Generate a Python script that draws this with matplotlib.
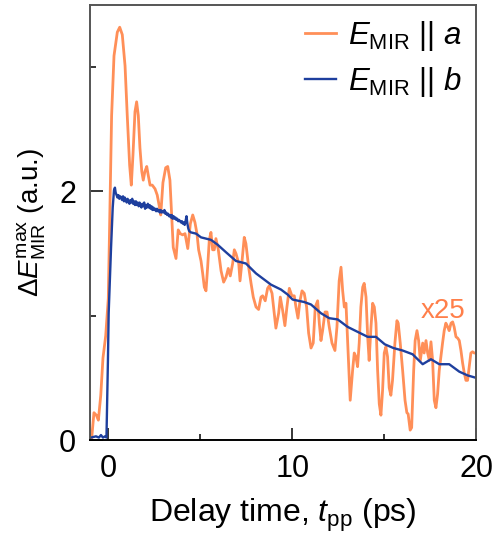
import numpy as np
from matplotlib import pyplot as plt

plt.rcParams['font.family'] = ['Liberation Sans', 'DejaVu Sans']
plt.rcParams['mathtext.fontset'] = 'custom'
plt.rcParams['mathtext.rm'] = 'Liberation Sans'
plt.rcParams['mathtext.it'] = 'Liberation Sans:italic'

# E_MIR || a (scaled x25)
t_a = [-0.90, -0.78, -0.65, -0.54, -0.41, -0.29, -0.14, 0.00, 0.08, 0.18,
       0.31, 0.49, 0.62, 0.76, 0.91, 1.03, 1.16, 1.25, 1.34, 1.45,
       1.54, 1.63, 1.72, 1.82, 1.90, 1.99, 2.09, 2.17, 2.27, 2.39,
       2.54, 2.66, 2.76, 2.85, 2.97, 3.12, 3.23, 3.35, 3.45, 3.53,
       3.68, 3.80, 3.91, 4.04, 4.17, 4.32, 4.46, 4.59, 4.71, 4.82,
       4.91, 5.04, 5.13, 5.22, 5.31, 5.40, 5.49, 5.58, 5.67, 5.76,
       5.85, 5.98, 6.13, 6.27, 6.40, 6.52, 6.63, 6.76, 6.85, 6.94,
       7.09, 7.16, 7.27, 7.39, 7.48, 7.63, 7.76, 7.88, 8.03, 8.17,
       8.30, 8.39, 8.53, 8.66, 8.75, 8.90, 9.02, 9.11, 9.26, 9.35,
       9.48, 9.60, 9.71, 9.84, 9.98, 10.11, 10.20, 10.31, 10.42, 10.53,
       10.65, 10.78, 10.89, 11.02, 11.14, 11.25, 11.38, 11.47, 11.56, 11.65,
       11.78, 11.89, 12.01, 12.16, 12.32, 12.43, 12.55, 12.65, 12.74, 12.83,
       12.92, 13.01, 13.15, 13.28, 13.37, 13.46, 13.55, 13.64, 13.73, 13.83,
       13.91, 14.01, 14.10, 14.18, 14.28, 14.37, 14.46, 14.55, 14.64, 14.73,
       14.82, 14.91, 15.00, 15.09, 15.18, 15.27, 15.36, 15.45, 15.58, 15.69,
       15.76, 15.87, 16.00, 16.13, 16.23, 16.30, 16.41, 16.49, 16.60, 16.68,
       16.78, 16.87, 16.96, 17.09, 17.17, 17.27, 17.36, 17.45, 17.54, 17.63,
       17.72, 17.81, 17.90, 17.99, 18.08, 18.17, 18.26, 18.35, 18.45, 18.53,
       18.63, 18.72, 18.80, 18.90, 18.99, 19.08, 19.17, 19.26, 19.35, 19.44,
       19.53, 19.62, 19.71, 19.80, 19.89, 20.00]
e_a = [0.02, 0.22, 0.20, 0.16, 0.36, 0.66, 0.84, 1.14, 1.81, 2.61,
       3.09, 3.28, 3.32, 3.26, 3.01, 2.61, 2.21, 2.05, 2.29, 2.64,
       2.72, 2.61, 2.35, 2.16, 2.09, 2.16, 2.20, 2.13, 2.05, 2.05,
       2.02, 1.97, 1.89, 1.81, 2.07, 2.19, 2.20, 2.09, 1.79, 1.55,
       1.46, 1.69, 1.66, 1.65, 1.66, 1.54, 1.74, 1.81, 1.75, 1.66,
       1.53, 1.44, 1.34, 1.23, 1.20, 1.39, 1.61, 1.67, 1.53, 1.53,
       1.62, 1.53, 1.36, 1.27, 1.31, 1.38, 1.32, 1.42, 1.53, 1.50,
       1.42, 1.28, 1.44, 1.63, 1.58, 1.39, 1.26, 1.15, 1.07, 1.05,
       1.15, 1.16, 1.12, 1.22, 1.24, 1.18, 1.02, 0.90, 1.02, 1.15,
       1.04, 0.92, 1.07, 1.22, 1.16, 1.16, 1.07, 0.98, 1.12, 1.20,
       1.18, 1.07, 0.86, 0.74, 0.78, 1.07, 1.12, 0.94, 0.80, 0.88,
       1.03, 1.03, 0.91, 0.78, 0.72, 0.91, 1.28, 1.39, 1.20, 1.07,
       1.10, 0.80, 0.32, 0.56, 0.70, 0.67, 0.59, 0.78, 1.07, 1.23,
       1.26, 1.15, 0.83, 0.64, 0.91, 1.10, 1.07, 0.94, 0.56, 0.29,
       0.20, 0.40, 0.70, 0.75, 0.67, 0.42, 0.36, 0.48, 0.78, 0.96,
       0.94, 0.78, 0.56, 0.32, 0.22, 0.21, 0.08, 0.10, 0.56, 0.80,
       0.88, 0.80, 0.64, 0.78, 0.70, 0.80, 0.70, 0.64, 0.79, 0.64,
       0.32, 0.26, 0.37, 0.56, 0.67, 0.78, 0.88, 0.94, 0.91, 0.88,
       0.94, 0.95, 0.91, 0.83, 0.82, 0.80, 0.72, 0.62, 0.54, 0.48,
       0.48, 0.59, 0.70, 0.71, 0.70, 0.70]

# E_MIR || b
t_b = [-0.94, -0.67, -0.51, -0.40, -0.29, -0.18, -0.10, -0.02, 0.02, 0.15,
       0.24, 0.31, 0.36, 0.40, 0.45, 0.50, 0.55, 0.60, 0.65, 0.70,
       0.75, 0.80, 0.85, 0.90, 0.95, 1.00, 1.05, 1.10, 1.15, 1.20,
       1.25, 1.30, 1.35, 1.40, 1.45, 1.50, 1.55, 1.60, 1.65, 1.70,
       1.75, 1.80, 1.85, 1.90, 1.95, 2.00, 2.05, 2.10, 2.15, 2.20,
       2.25, 2.30, 2.35, 2.40, 2.45, 2.50, 2.55, 2.60, 2.65, 2.70,
       2.75, 2.80, 2.85, 2.90, 2.95, 3.00, 3.05, 3.10, 3.15, 3.20,
       3.25, 3.30, 3.35, 3.40, 3.45, 3.50, 3.55, 3.60, 3.65, 3.70,
       3.75, 3.80, 3.85, 3.90, 3.95, 4.00, 4.05, 4.10, 4.15, 4.20,
       4.25, 4.30, 4.35, 4.40, 4.49, 4.77, 5.04, 5.58, 5.95, 6.40,
       6.94, 7.48, 8.03, 8.57, 8.84, 9.39, 9.75, 10.02, 10.65, 11.02,
       11.56, 12.01, 12.47, 13.01, 13.55, 14.10, 14.55, 15.03, 15.50, 16.00,
       16.54, 17.09, 17.54, 17.99, 18.53, 19.08, 19.53, 20.00]
e_b = [0.02, 0.03, 0.02, 0.04, 0.02, 0.03, 0.02, 0.64, 1.02, 1.55,
       1.87, 2.01, 2.03, 1.99, 1.97, 1.95, 1.97, 1.94, 1.96, 1.95,
       1.93, 1.96, 1.92, 1.95, 1.93, 1.91, 1.94, 1.92, 1.90, 1.93,
       1.91, 1.94, 1.90, 1.92, 1.89, 1.92, 1.89, 1.91, 1.88, 1.91,
       1.89, 1.87, 1.90, 1.88, 1.91, 1.86, 1.89, 1.87, 1.90, 1.87,
       1.89, 1.86, 1.88, 1.85, 1.87, 1.85, 1.86, 1.84, 1.86, 1.84,
       1.85, 1.83, 1.85, 1.83, 1.84, 1.83, 1.85, 1.82, 1.83, 1.81,
       1.82, 1.80, 1.81, 1.79, 1.81, 1.78, 1.80, 1.78, 1.79, 1.77,
       1.78, 1.76, 1.77, 1.76, 1.75, 1.76, 1.74, 1.75, 1.73, 1.76,
       1.80, 1.74, 1.70, 1.68, 1.67, 1.66, 1.63, 1.61, 1.57, 1.51,
       1.44, 1.42, 1.34, 1.28, 1.25, 1.21, 1.17, 1.13, 1.11, 1.09,
       1.02, 0.98, 0.97, 0.91, 0.87, 0.83, 0.83, 0.77, 0.74, 0.72,
       0.69, 0.61, 0.65, 0.61, 0.61, 0.55, 0.52, 0.50]

orange = '#FF8F58'
blue = '#1E3F9E'

fig = plt.figure(figsize=(4.94, 5.36), dpi=100)
ax = fig.add_axes([0.182, 0.179, 0.782, 0.812])

ax.plot(t_a, e_a, color=orange, lw=2.0, label=r'$E_{\mathrm{MIR}}$ || $a$')
ax.plot(t_b, e_b, color=blue, lw=1.7, label=r'$E_{\mathrm{MIR}}$ || $b$')

ax.text(18.2, 1.04, 'x25', color='#FF7F4A', fontsize=20, ha='center', va='center')

ax.set_xlim(-1, 20)
ax.set_ylim(0, 3.5)
ax.set_xticks([0, 10, 20])
ax.set_xticks([5, 15], minor=True)
ax.set_yticks([0, 2])
ax.set_yticks([1, 3], minor=True)
ax.tick_params(which='major', direction='in', length=9, width=1.1, labelsize=22, pad=10)
ax.tick_params(which='minor', direction='in', length=4.5, width=1.1)
for s in ax.spines.values():
    s.set_linewidth(1.4)
    s.set_color('#555555')
ax.spines['bottom'].set_color('black')

ax.set_xlabel(r'Delay time, $t_{\mathrm{pp}}$ (ps)', fontsize=23, labelpad=9)
ax.set_ylabel(r'$\Delta E_{\mathrm{MIR}}^{\mathrm{max}}$ (a.u.)', fontsize=20, labelpad=8)

ax.legend(loc='upper right', frameon=False, fontsize=22.5, handlelength=1.0,
          handletextpad=0.4, labelspacing=0.4, borderaxespad=0.05)

fig.savefig('out.png', dpi=100)
